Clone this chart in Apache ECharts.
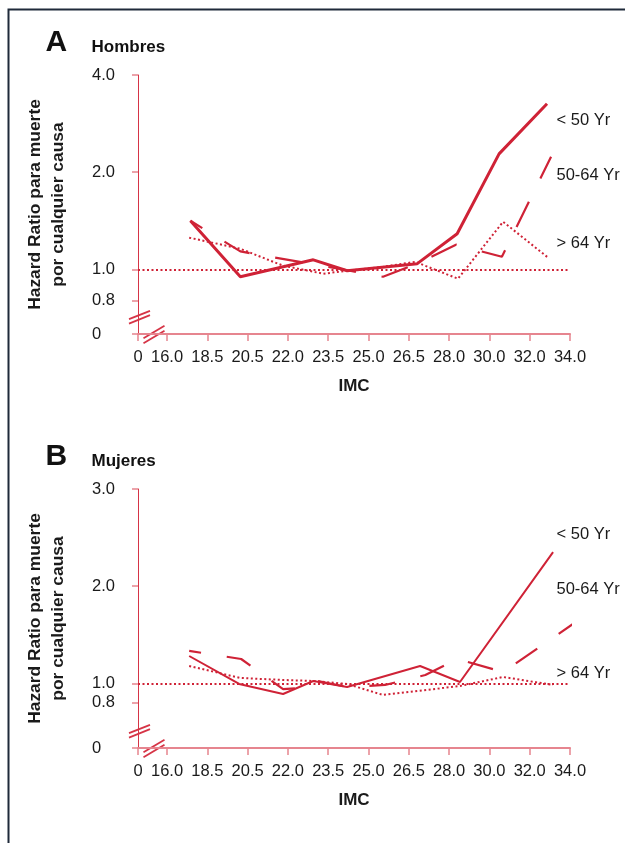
<!DOCTYPE html>
<html><head><meta charset="utf-8">
<script src="https://cdn.jsdelivr.net/npm/echarts@6/dist/echarts.min.js"></script>
<style>html,body{margin:0;padding:0;background:#fff}#c{width:625px;height:843px}</style>
</head><body><div id="c"></div>
<script>
// ---- x axis (IMC) : evenly spaced tick positions, first one is the broken "0"
const xTickLabels = ['0','16.0','18.5','20.5','22.0','23.5','25.0','26.5','28.0','30.0','32.0','34.0'];
const xTickPositions = [-0.72, 0, 1, 2, 3, 4, 5, 6, 7, 8, 9, 10];

// ---- y axis ticks
const yTickValuesA = [0.6311, 0.8, 1, 2, 4];
const yTickLabelsA = ['0', '0.8', '1.0', '2.0', '4.0'];
const yTickValuesB = [0.334, 0.8, 1, 2, 3];
const yTickLabelsB = ['0', '0.8', '1.0', '2.0', '3.0'];

// ---- Panel A : Hombres (hazard ratio)
const hombresLt50X  = [0.58, 1.82, 3.63, 4.47, 6.21, 7.20, 8.24, 9.43];
const hombresLt50Y  = [1.415, 0.949, 1.071, 0.991, 1.042, 1.29, 2.28, 3.26];
const hombres5064X  = [0.58, 1.82, 4.47, 5.36, 6.21, 7.17, 8.31, 9.53];
const hombres5064Y  = [1.415, 1.137, 0.994, 0.949, 1.042, 1.193, 1.095, 2.234];
const hombresGt64X  = [0.55, 1.82, 2.88, 3.88, 4.47, 5.36, 6.16, 7.22, 8.34, 9.46];
const hombresGt64Y  = [1.254, 1.159, 1.027, 0.970, 0.991, 1.019, 1.056, 0.936, 1.405, 1.087];

// ---- Panel B : Mujeres
const mujeresLt50X  = [0.55, 1.79, 2.88, 3.63, 4.47, 6.28, 7.27, 9.58];
const mujeresLt50Y  = [1.281, 0.993, 0.890, 1.024, 0.962, 1.178, 1.013, 2.351];
const mujeres5064X  = [0.55, 1.84, 2.88, 3.38, 3.63, 4.47, 5.41, 6.41, 7.20, 8.34, 10.40];
const mujeres5064Y  = [1.333, 1.25, 0.941, 0.952, 1.034, 0.962, 0.983, 1.085, 1.25, 1.116, 1.703];
const mujeresGt64X  = [0.55, 1.82, 2.88, 3.63, 4.47, 5.36, 7.27, 8.34, 9.58];
const mujeresGt64Y  = [1.178, 1.055, 1.034, 1.024, 0.993, 0.880, 0.972, 1.065, 0.983];

const seriesNames = ['< 50 Yr', '50-64 Yr', '> 64 Yr'];
const panelLetters = ['A', 'B'];
const panelTitles = ['Hombres', 'Mujeres'];
const yAxisTitle = 'Hazard Ratio para muerte\npor cualquier causa';
const xAxisTitle = 'IMC';

const RED = '#cf2236';
const AXIS_RED = '#d63446';
const AXIS_PINK = '#e6858f';
const FONT = '"Liberation Sans", Arial, sans-serif';

const zip = (xs, ys) => xs.map((x, i) => [x, ys[i]]);
const pick = (vals, labels) => (v) => {
  let best = 0, bd = Infinity;
  vals.forEach((t, i) => { const d = Math.abs(t - v); if (d < bd) { bd = d; best = i; } });
  return labels[best];
};

const G = [
  { top: 75, height: 259 },
  { top: 489, height: 259 }
];
const GL = 138, GW = 432;

function xAxisFor(i) {
  return {
    type: 'value', gridIndex: i, min: -0.72, max: 10,
    splitLine: { show: false },
    axisLine: { onZero: false, lineStyle: { color: AXIS_PINK, width: 2 } },
    axisTick: { customValues: xTickPositions, length: 7, lineStyle: { color: AXIS_PINK, width: 1.5 } },
    axisLabel: { customValues: xTickPositions, formatter: pick(xTickPositions, xTickLabels),
      color: '#1a1a1a', fontSize: 16.5, fontFamily: FONT, margin: 15 },
    name: xAxisTitle, nameLocation: 'middle', nameGap: 44,
    nameTextStyle: { fontSize: 17, fontWeight: 'bold', color: '#1a1a1a', fontFamily: FONT }
  };
}
function yAxisFor(i, type, min, max, vals, labels) {
  const ax = {
    type, gridIndex: i, min, max,
    splitLine: { show: false },
    axisLine: { onZero: false, lineStyle: { color: AXIS_RED, width: 1 } },
    axisTick: { customValues: vals, length: 6, lineStyle: { color: AXIS_PINK, width: 1.5 } },
    axisLabel: { customValues: vals, formatter: pick(vals, labels), align: 'left', margin: 46,
      color: '#1a1a1a', fontSize: 16.5, fontFamily: FONT },
    name: yAxisTitle, nameLocation: 'middle', nameGap: 68, nameRotate: 90,
    nameTextStyle: { fontSize: 17.4, fontWeight: 'bold', color: '#1a1a1a', fontFamily: FONT, lineHeight: 23 }
  };
  if (type === 'log') ax.logBase = 2;
  return ax;
}

const refLine = {
  silent: true, symbol: 'none', label: { show: false },
  lineStyle: { color: RED, width: 2, type: [2, 2.5] },
  data: [{ yAxis: 1 }]
};
function lineSeries(name, i, data, width, type, offset, withRef) {
  const s = {
    name, type: 'line', xAxisIndex: i, yAxisIndex: i, data,
    showSymbol: false, symbol: 'none', clip: false,
    lineStyle: { color: RED, width, type, dashOffset: offset || 0, cap: 'butt' }
  };
  if (withRef) s.markLine = refLine;
  return s;
}

function slashPair(cx, cy, dx, dy, off) {
  const mk = (o) => ({
    type: 'line', silent: true,
    shape: { x1: cx - dx / 2, y1: cy - dy / 2 + o, x2: cx + dx / 2, y2: cy + dy / 2 + o },
    style: { stroke: AXIS_RED, lineWidth: 1.8 }
  });
  return [mk(-off), mk(off)];
}

const graphics = [
  { type: 'rect', silent: true, shape: { x: 8.5, y: 9.5, width: 700, height: 900 },
    style: { fill: 'none', stroke: '#1f2a3a', lineWidth: 2 } }
];
G.forEach((g, i) => {
  const axisY = g.top + g.height;
  graphics.push(...slashPair(139.5, axisY - 16.8, 21, -8.4, 2.2));
  graphics.push(...slashPair(154, axisY + 0.5, 21, -12.7, 2.5));
});
// panel letters / titles
const letterY = [42.5, 457];
const titleY = [47.8, 461.3];
panelLetters.forEach((t, i) => {
  graphics.push({ type: 'text', silent: true, x: 45.5, y: letterY[i],
    style: { text: t, fontSize: 30, fontWeight: 'bold', fontFamily: FONT, fill: '#111', verticalAlign: 'middle' } });
  graphics.push({ type: 'text', silent: true, x: 91.5, y: titleY[i],
    style: { text: panelTitles[i], fontSize: 17, fontWeight: 'bold', fontFamily: FONT, fill: '#111', verticalAlign: 'middle' } });
});
// series labels at right
const labelYs = [[120.8, 175, 243], [534.5, 589.5, 673.3]];
labelYs.forEach((ys) => ys.forEach((y, k) => {
  graphics.push({ type: 'text', silent: true, x: 556.5, y,
    style: { text: seriesNames[k], fontSize: 16.5, fontFamily: FONT, fill: '#1a1a1a', verticalAlign: 'middle' } });
}));

const option = {
  animation: false,
  backgroundColor: '#fff',
  grid: G.map(g => ({ left: GL, width: GW, top: g.top, height: g.height, containLabel: false, outerBoundsMode: 'none' })),
  xAxis: [xAxisFor(0), xAxisFor(1)],
  yAxis: [
    yAxisFor(0, 'log', 0.6311, 4, yTickValuesA, yTickLabelsA),
    yAxisFor(1, 'value', 0.334, 3, yTickValuesB, yTickLabelsB)
  ],
  series: [
    lineSeries(seriesNames[0], 0, zip(hombresLt50X, hombresLt50Y), 3, 'solid', 0, true),
    lineSeries(seriesNames[1], 0, zip(hombres5064X, hombres5064Y), 2.2, [28, 26], 14),
    lineSeries(seriesNames[2], 0, zip(hombresGt64X, hombresGt64Y), 2, [2, 2.5], 0),
    lineSeries(seriesNames[0], 1, zip(mujeresLt50X, mujeresLt50Y), 2, 'solid', 0, true),
    lineSeries(seriesNames[1], 1, zip(mujeres5064X, mujeres5064Y), 2.2, [26, 26], 14),
    lineSeries(seriesNames[2], 1, zip(mujeresGt64X, mujeresGt64Y), 2, [2, 2.5], 0)
  ],
  graphic: graphics
};
const chart = echarts.init(document.getElementById('c'), null, { renderer: 'canvas' });
chart.setOption(option);
</script>
</body></html>
